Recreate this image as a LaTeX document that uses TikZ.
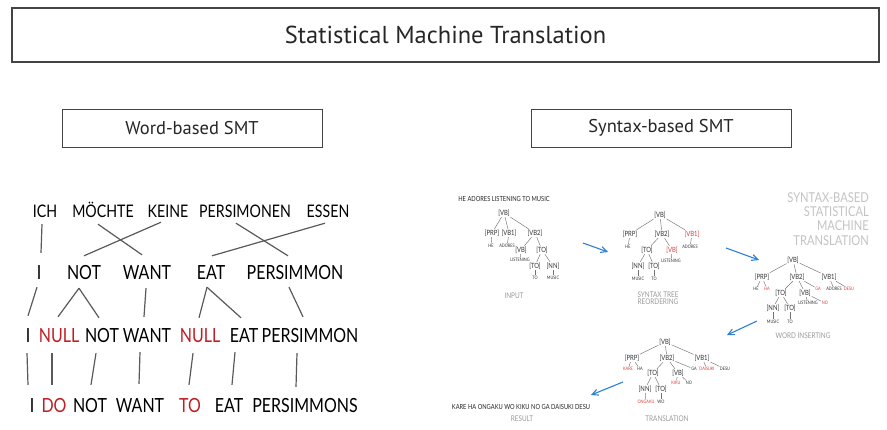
\documentclass[tikz,border=0pt]{standalone}
\usepackage{fontspec}
\setmainfont{PT Sans}
\newfontfamily\xk[FakeStretch=0.82]{Lato}
\usetikzlibrary{arrows.meta}
\definecolor{boxgray}{HTML}{444444}
\definecolor{linegray}{HTML}{5A5A5A}
\definecolor{smtred}{HTML}{C01E24}
\definecolor{trred}{HTML}{D8403A}
\definecolor{trtext}{HTML}{333333}
\definecolor{capgray}{HTML}{9A9A9A}
\definecolor{biggray}{HTML}{C4C4C4}
\definecolor{arrblue}{HTML}{2E7FD6}
\begin{document}
\begin{tikzpicture}[x=1pt,y=-1pt,
  titlebox/.style={draw=boxgray,line width=2.5pt,minimum width=867pt,minimum height=54pt,inner sep=0pt,font=\fontsize{24.5}{28}\selectfont,text=black!85},
  subbox/.style={draw=boxgray,line width=1pt,minimum width=260pt,minimum height=38pt,inner sep=0pt,font=\fontsize{18.5}{22}\selectfont,text=black!85},
  wtop/.style={font=\xk\fontsize{17.3}{18}\selectfont,inner sep=0pt,text height=12pt,text depth=0pt},
  wrd/.style={font=\xk\fontsize{19.5}{21}\selectfont,inner sep=0pt,text height=14pt,text depth=0pt},
  wred/.style={wrd,text=smtred},
  link/.style={draw=linegray,line width=1.2pt},
  tl/.style={font=\xk\fontsize{7.2}{8}\selectfont,inner sep=0.7pt,text=trtext},
  tlr/.style={tl,text=trred},
  lf/.style={font=\xk\fontsize{4.7}{6}\selectfont,inner sep=0.7pt,text=trtext},
  lfr/.style={lf,text=trred},
  tlink/.style={draw=black!55,line width=0.45pt},
  capt/.style={font=\xk\fontsize{7.8}{8.5}\selectfont,text=capgray,inner sep=0pt,align=center},
  sent/.style={font=\xk\fontsize{7}{8}\selectfont,text=black!85,inner sep=0pt},
  barrow/.style={draw=arrblue,line width=1.1pt,-{Straight Barb[length=6pt,width=6pt]}}
]
\useasboundingbox (0,0) rectangle (887,429);
\fill[white] (0,0) rectangle (887,429);

% headers
\node[titlebox] (title) at (445.5,35) {Statistical Machine Translation};
\node[subbox] (wbox) at (192,128) {Word-based SMT};
\node[subbox] (sbox) at (661,128) {Syntax-based SMT};

% ---------- word-based ----------
\node[wtop] (ich) at (45,211) {ICH};
\node[wtop] (mochte) at (103,211) {MÖCHTE};
\node[wtop] (keine) at (168,211) {KEINE};
\node[wtop] (persimonen) at (245,211) {PERSIMONEN};
\node[wtop] (essen) at (328,211) {ESSEN};

\node[wrd] (iB) at (39,272) {I};
\node[wrd] (notB) at (84,272) {NOT};
\node[wrd] (wantB) at (147,272) {WANT};
\node[wrd] (eatB) at (211,272) {EAT};
\node[wrd] (persB) at (295,272) {PERSIMMON};

\node[wrd] (iC) at (28,335) {I};
\node[wred] (nullC) at (59,335) {NULL};
\node[wrd] (notC) at (102,335) {NOT};
\node[wrd] (wantC) at (147,335) {WANT};
\node[wred] (nullD) at (200,335) {NULL};
\node[wrd] (eatC) at (244,335) {EAT};
\node[wrd] (persC) at (310,335) {PERSIMMON};

\node[wrd] (iE) at (32,405) {I};
\node[wred] (doE) at (54,405) {DO};
\node[wrd] (notE) at (90,405) {NOT};
\node[wrd] (wantE) at (140,405) {WANT};
\node[wred] (toE) at (190,405) {TO};
\node[wrd] (eatE) at (229,405) {EAT};
\node[wrd] (persE) at (305,405) {PERSIMMONS};

\draw[link] ([shift={(-3,7)}]ich.south) -- ([shift={(2,-12)}]iB.north);
\draw[link] ([shift={(-5,7)}]mochte.south) -- ([shift={(-5,-10)}]wantB.north);
\draw[link] ([shift={(-7,5)}]keine.south) -- ([shift={(0,-9)}]notB.north);
\draw[link] ([shift={(-9,6)}]persimonen.south) -- ([shift={(-7,-9)}]persB.north);
\draw[link] ([shift={(-3,6)}]essen.south) -- ([shift={(1,-9)}]eatB.north);

\draw[link] ([shift={(-2,8)}]iB.south) -- ([shift={(0,-12)}]iC.north);
\draw[link] ([shift={(-5,9)}]notB.south) -- ([shift={(-1,-11)}]nullC.north);
\draw[link] ([shift={(-5,9)}]notB.south) -- ([shift={(-3,-10)}]notC.north);
\draw[link] ([shift={(-1,9)}]wantB.south) -- ([shift={(-3,-11)}]wantC.north);
\draw[link] ([shift={(-4,8)}]eatB.south) -- ([shift={(-1,-10)}]nullD.north);
\draw[link] ([shift={(-4,8)}]eatB.south) -- ([shift={(-3,-10)}]eatC.north);
\draw[link] ([shift={(-6,8)}]persB.south) -- ([shift={(-7,-11)}]persC.north);

\draw[link] ([shift={(-1,11)}]iC.south) -- ([shift={(-4,-13)}]iE.north);
\draw[link] ([shift={(-7,11)}]nullC.south) -- ([shift={(-2,-13)}]doE.north);
\draw[link] ([shift={(-6,11)}]notC.south) -- ([shift={(1,-13)}]notE.north);
\draw[link] ([shift={(-7,10)}]wantC.south) -- ([shift={(-1,-14)}]wantE.north);
\draw[link] ([shift={(-7,11)}]nullD.south) -- ([shift={(-1,-13)}]toE.north);
\draw[link] ([shift={(-9,10)}]eatC.south) -- ([shift={(3,-13)}]eatE.north);
\draw[link] ([shift={(-13,11)}]persC.south) -- ([shift={(-9,-11)}]persE.north);

% ---------- syntax-based ----------
\node[font=\xk\fontsize{13.6}{14.4}\selectfont,text=biggray,align=right,anchor=north east,inner sep=0pt] (bigtxt) at (869,192)
  {SYNTAX-BASED\\STATISTICAL\\MACHINE\\TRANSLATION};

% tree 1: input
\node[sent] (sent1) at (504,199) {HE ADORES LISTENING TO MUSIC};
\node[tl] (t1vb) at (504,213) {[VB]};
\node[tl] (t1prp) at (492,233) {[PRP]};
\node[tl] (t1vbi) at (509,233) {[VB1]};
\node[tl] (t1vbii) at (535,233) {[VB2]};
\node[lf] (t1he) at (491,246) {HE};
\node[lf] (t1adores) at (507,246) {ADORES};
\node[tl] (t1vbb) at (521,250) {[VB]};
\node[tl] (t1to) at (542,250) {[TO]};
\node[lf] (t1listening) at (520,260) {LISTENING};
\node[tl] (t1toi) at (535,266) {[TO]};
\node[tl] (t1nn) at (553,266) {[NN]};
\node[lf] (t1tow) at (535,278) {TO};
\node[lf] (t1music) at (553,278) {MUSIC};
\node[capt] (c1) at (514,296) {INPUT};
\foreach \a/\b in {t1vb/t1prp,t1vb/t1vbi,t1vb/t1vbii,t1prp/t1he,t1vbi/t1adores,t1vbii/t1vbb,t1vbii/t1to,t1vbb/t1listening,t1to/t1toi,t1to/t1nn,t1toi/t1tow,t1nn/t1music}
  \draw[tlink] (\a) -- (\b);

% tree 2: reordering
\node[tl] (t2vb) at (660,215) {[VB]};
\node[tl] (t2prp) at (630,234) {[PRP]};
\node[tl] (t2vbii) at (662,234) {[VB2]};
\node[tlr] (t2vbi) at (692,234) {[VB1]};
\node[lf] (t2he) at (628,247) {HE};
\node[lf] (t2adores) at (690,247) {ADORES};
\node[tl] (t2to) at (647,250) {[TO]};
\node[tlr] (t2vbb) at (672,250) {[VB]};
\node[lf] (t2listening) at (671,261) {LISTENING};
\node[tl] (t2nn) at (638,266) {[NN]};
\node[tl] (t2toi) at (654,266) {[TO]};
\node[lf] (t2music) at (638,279) {MUSIC};
\node[lf] (t2tow) at (654,279) {TO};
\node[capt] (c2) at (658,298.5) {SYNTAX TREE\\[-1.5pt]REORDERING};
\foreach \a/\b in {t2vb/t2prp,t2vb/t2vbii,t2vb/t2vbi,t2prp/t2he,t2vbi/t2adores,t2vbii/t2to,t2vbii/t2vbb,t2vbb/t2listening,t2to/t2nn,t2to/t2toi,t2nn/t2music,t2toi/t2tow}
  \draw[tlink] (\a) -- (\b);

% tree 3: word inserting
\node[tl] (t3vb) at (793,260) {[VB]};
\node[tl] (t3prp) at (762,277) {[PRP]};
\node[tl] (t3vbii) at (797,277) {[VB2]};
\node[tl] (t3vbi) at (829,277) {[VB1]};
\node[lf] (t3he) at (756,289) {HE};
\node[lfr] (t3ha) at (767,289) {HA};
\node[lfr] (t3ga) at (818,289) {GA};
\node[lf] (t3adores) at (834,289) {ADORES};
\node[lfr] (t3desu) at (849,289) {DESU};
\node[tl] (t3to) at (781,293) {[TO]};
\node[tl] (t3vbb) at (805,293) {[VB]};
\node[lf] (t3listening) at (808,303) {LISTENING};
\node[lfr] (t3no) at (825,303) {NO};
\node[tl] (t3nn) at (773,308) {[NN]};
\node[tl] (t3toi) at (790,308) {[TO]};
\node[lf] (t3music) at (773,322) {MUSIC};
\node[lf] (t3tow) at (790,322) {TO};
\node[capt] (c3) at (803,336) {WORD INSERTING};
\foreach \a/\b in {t3vb/t3prp,t3vb/t3vbii,t3vb/t3vbi,t3prp/t3he,t3prp/t3ha,t3vbii/t3to,t3vbii/t3vbb,t3vbii/t3ga,t3vbi/t3adores,t3vbi/t3desu,t3vbb/t3listening,t3vbb/t3no,t3to/t3nn,t3to/t3toi,t3nn/t3music,t3toi/t3tow}
  \draw[tlink] (\a) -- (\b);

% tree 4: translation
\node[tl] (t4vb) at (665,342) {[VB]};
\node[tl] (t4prp) at (632,358) {[PRP]};
\node[tl] (t4vbii) at (667,358) {[VB2]};
\node[tl] (t4vbi) at (702,358) {[VB1]};
\node[lfr] (t4kare) at (628,369) {KARE};
\node[lf] (t4ha) at (640,369) {HA};
\node[lf] (t4ga) at (694,369) {GA};
\node[lfr] (t4daisuki) at (707,369) {DAISUKI};
\node[lf] (t4desu) at (725,369) {DESU};
\node[tl] (t4to) at (653,373) {[TO]};
\node[tl] (t4vbb) at (678,373) {[VB]};
\node[lfr] (t4kiku) at (676,383) {KIKU};
\node[lf] (t4no) at (689,383) {NO};
\node[tl] (t4nn) at (645,389) {[NN]};
\node[tl] (t4toi) at (661,389) {[TO]};
\node[lfr] (t4ongaku) at (646,402) {ONGAKU};
\node[lf] (t4wo) at (661,402) {WO};
\node[capt] (c4) at (667,419) {TRANSLATION};
\foreach \a/\b in {t4vb/t4prp,t4vb/t4vbii,t4vb/t4vbi,t4prp/t4kare,t4prp/t4ha,t4vbii/t4to,t4vbii/t4vbb,t4vbii/t4ga,t4vbi/t4daisuki,t4vbi/t4desu,t4vbb/t4kiku,t4vbb/t4no,t4to/t4nn,t4to/t4toi,t4nn/t4ongaku,t4toi/t4wo}
  \draw[tlink] (\a) -- (\b);

% result
\node[sent] (sent5) at (521,407) {KARE HA ONGAKU WO KIKU NO GA DAISUKI DESU};
\node[capt] (c5) at (522,419) {RESULT};

% blue arrows
\coordinate (a1s) at (583,243); \coordinate (a1e) at (608,252);
\coordinate (a2s) at (726,248); \coordinate (a2e) at (759,260);
\coordinate (a3s) at (757,321); \coordinate (a3e) at (727,335);
\coordinate (a4s) at (623,382); \coordinate (a4e) at (591,395);
\draw[barrow] (a1s) -- (a1e);
\draw[barrow] (a2s) -- (a2e);
\draw[barrow] (a3s) -- (a3e);
\draw[barrow] (a4s) -- (a4e);
\end{tikzpicture}
\end{document}
